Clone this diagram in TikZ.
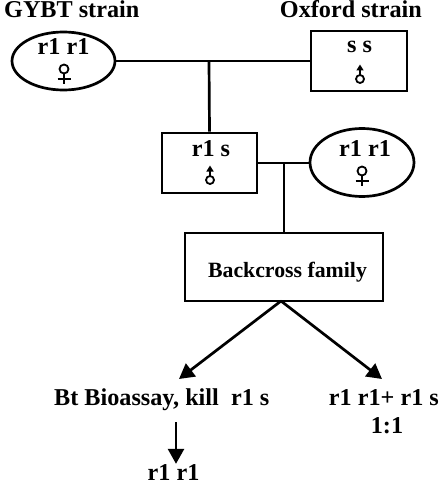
\documentclass[tikz,border=0pt]{standalone}
\usepackage{fontspec}
\setmainfont{Liberation Serif}
\usetikzlibrary{shapes.geometric,arrows.meta}
\tikzset{
  big/.style={font=\bfseries\fontsize{24.2}{24.2}\selectfont, inner sep=0pt},
  mid/.style={font=\bfseries\fontsize{21.8}{21.8}\selectfont, inner sep=0pt},
  femalebox/.style={draw, ellipse, line width=2.7pt, inner sep=0pt},
  malebox/.style={draw, rectangle, line width=2.7pt, inner sep=0pt},
  link/.style={line width=2.7pt},
  arr/.style={line width=2.7pt, -{Triangle[length=15pt,width=16pt]}},
  sym/.style={line width=1.8pt},
  pics/female/.style={code={
    \draw[sym] (0,0) circle[radius=4.5];
    \draw[sym] (0,4.5) -- (0,15);
    \draw[sym] (-6.5,10) -- (6.5,10);
  }},
  pics/male/.style={code={
    \draw[sym] (0,0) circle[radius=4];
    \draw[sym, -{Triangle[length=6pt,width=7pt]}] (0,-4) -- (0,-14.5);
  }}
}
\begin{document}
\begin{tikzpicture}[x=1pt,y=-1pt]
\useasboundingbox (0,0) rectangle (442,484);
% headings
\node[big, anchor=base west] (gybt) at (4,18) {GYBT strain};
\node[big, anchor=base east] (oxf) at (422,18) {Oxford strain};
% parents
\node[femalebox, minimum width=103pt, minimum height=58pt] (e1) at (63.5,61) {};
\node[big, anchor=base] (e1t) at (63.5,55) {r1 r1};
\pic at (64,69) {female};
\node[malebox, minimum width=96pt, minimum height=60pt] (ox) at (359,61) {};
\node[big, anchor=base] (oxt) at (359.5,53) {s s};
\pic at (360,79) {male};
\coordinate (m1) at (209,61);
\draw[link] (e1.east) -- (ox.west);
% F1
\node[malebox, minimum width=95pt, minimum height=60pt] (rs) at (209.5,163) {};
\node[big, anchor=base] (rst) at (211,156) {r1 s};
\pic at (210,180) {male};
\draw[link] (m1) -- (rs.north);
\node[femalebox, minimum width=104pt, minimum height=68pt] (e2) at (362,162.5) {};
\node[big, anchor=base] (e2t) at (365,156) {r1 r1};
\pic at (362,171) {female};
\coordinate (m2) at (284,163);
\draw[link] (rs.east |- m2) -- (e2.west |- m2);
% backcross
\node[malebox, minimum width=198pt, minimum height=68pt] (bc) at (284,267) {};
\node[mid, anchor=base] (bct) at (287.5,277) {Backcross family};
\draw[link] (m2) -- (m2 |- bc.north);
\coordinate (top) at (281,301);
\coordinate (lt) at (179,379);
\coordinate (rt) at (382,379);
\draw[arr] (top) -- (lt);
\draw[arr] (top) -- (rt);
% outcomes
\node[big, anchor=base west] (bio) at (54,405) {Bt Bioassay, kill\ \ r1 s};
\node[big, anchor=base east] (mix) at (439,405) {r1 r1+ r1 s};
\node[big, anchor=base] (ratio) at (387,433) {1:1};
\node[big, anchor=base] (res) at (173.5,480) {r1 r1};
\coordinate (d1) at (176,422);
\draw[arr] (d1) -- (res.north -| d1) ;
\end{tikzpicture}
\end{document}
